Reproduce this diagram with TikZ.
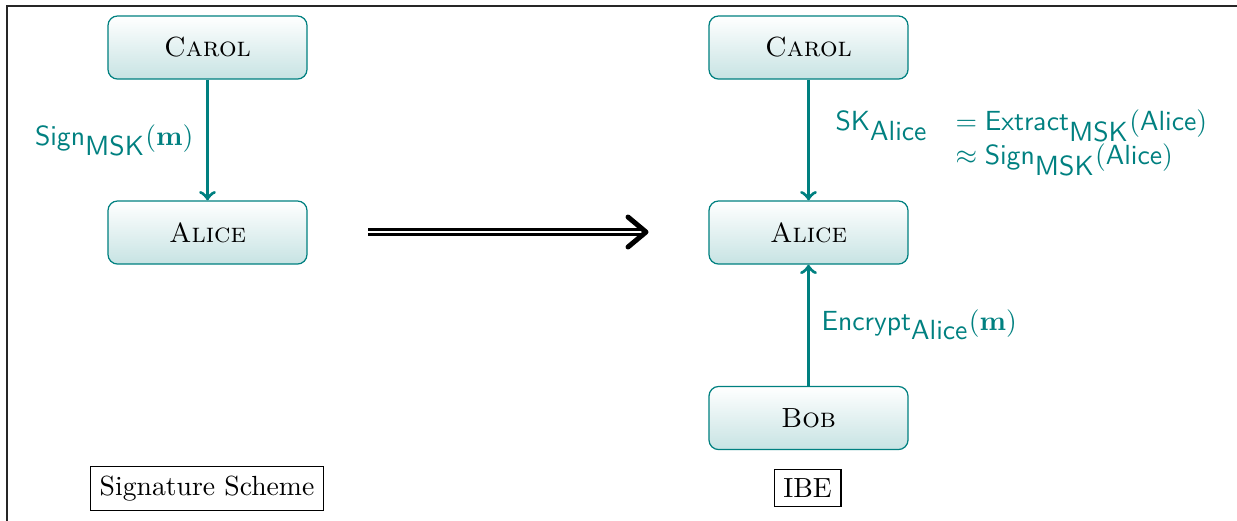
\documentclass[tikz,border=0pt]{standalone}
\usetikzlibrary{calc}
\definecolor{tl}{RGB}{0,128,128}
\begin{document}
\begin{tikzpicture}[x=0.3612pt,y=-0.3612pt,
  party/.style={draw=tl, line width=0.45pt, rounded corners=3.5pt, top color=white, bottom color=tl!22,
    minimum width=71.9pt, minimum height=22.8pt, inner sep=0pt, font=\normalsize},
  msg/.style={draw=tl, line width=1.2pt, ->},
  lbl/.style={text=tl, inner sep=0pt},
  caption/.style={draw=black, line width=0.4pt, inner sep=3.33pt}]
\useasboundingbox (0,0) rectangle (1237,520);
\draw[line width=0.6pt, black!85] (7,530) -- (7,6) -- (1245,6);
% left: signature scheme
\node[party] (carolL) at (207.5,47.5) {\textsc{Carol}};
\node[party] (aliceL) at (207.5,232.5) {\textsc{Alice}};
\draw[msg] (carolL) -- (aliceL);
\node[lbl, anchor=base east] (signlbl) at (194,145) {$\mathsf{Sign}_{\textsf{MSK}}(\mathbf{m})$};
\node[caption] (sigcap) at (207,488.5) {Signature Scheme};
% implication arrow
\coordinate (impA) at (368,232);
\coordinate (impB) at (644,232);
\draw[double=white, double distance=0.8pt, line width=0.9pt] (impA) -- (impB);
\draw[line width=1.8pt, line cap=round, line join=round] ($(impB)+(-16,-15)$) -- ($(impB)+(2,0)$) -- ($(impB)+(-16,15)$);
% right: IBE
\node[party] (carolR) at (808.5,47.5) {\textsc{Carol}};
\node[party] (aliceR) at (808.5,232.5) {\textsc{Alice}};
\node[party] (bobR) at (808.5,418) {\textsc{Bob}};
\draw[msg] (carolR) -- (aliceR);
\draw[msg] (bobR) -- (aliceR);
\node[lbl, anchor=north west] (sklbl) at (835,107) {$\begin{array}{@{}ll@{}}
  \mathsf{SK}_{\textsf{Alice}} & = \mathsf{Extract}_{\textsf{MSK}}(\textsf{Alice}) \\
   & \approx \mathsf{Sign}_{\textsf{MSK}}(\textsf{Alice})
\end{array}$};
\node[lbl, anchor=base west] (enclbl) at (821,330) {$\mathsf{Encrypt}_{\textsf{Alice}}(\mathbf{m})$};
\node[caption] (ibecap) at (807.5,488) {IBE};
\end{tikzpicture}
\end{document}
